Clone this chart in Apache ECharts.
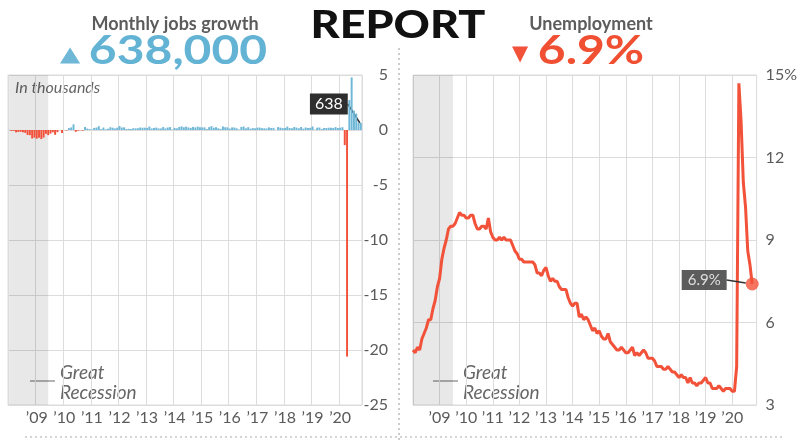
<!DOCTYPE html>
<html>
<head>
<meta charset="utf-8">
<script src="https://cdn.jsdelivr.net/npm/echarts@6/dist/echarts.min.js"></script>
<style>
html,body{margin:0;padding:0;background:#fff;}
#c{width:800px;height:443px;}
</style>
</head>
<body>
<div id="c"></div>
<script>
// ---------- DATA ----------
const years = ['2008','2009','2010','2011','2012','2013','2014','2015','2016','2017','2018','2019','2020'];

// Monthly change in nonfarm payrolls, thousands (Jan 2008 – Oct 2020)
const jobsChange = [
  17,-84,-78,-210,-185,-165,-209,-266,-452,-473,-770,-695,
  -791,-703,-823,-686,-351,-470,-329,-212,-438,-199,-7,-279,
  14,-52,178,237,514,-166,-59,-20,-63,263,131,87,
  43,189,225,346,77,225,69,110,248,209,141,209,
  360,226,243,96,110,88,160,150,161,225,203,214,
  190,311,135,192,218,146,140,268,143,226,264,49,
  190,151,272,329,246,304,231,193,281,226,312,255,
  234,238,86,262,344,206,254,157,100,321,252,239,
  126,237,225,153,38,280,313,152,256,124,172,155,
  216,219,149,155,139,242,179,195,15,262,215,168,
  176,311,179,159,270,215,158,271,123,229,173,202,
  315,30,214,227,85,186,182,207,208,185,261,184,
  214,251,-1373,-20600,2725,4781,1761,1493,672,638
];

// Unemployment rate, % (Jan 2008 – Oct 2020)
const unemployment = [
  5.0,4.9,5.1,5.0,5.4,5.6,5.8,6.1,6.1,6.5,6.8,7.3,
  7.6,8.3,8.7,9.0,9.4,9.5,9.5,9.6,9.8,10.0,9.9,9.9,
  9.8,9.8,9.9,9.9,9.6,9.4,9.4,9.5,9.5,9.4,9.8,9.3,
  9.1,9.0,9.0,9.1,9.0,9.1,9.0,9.0,9.0,8.8,8.6,8.5,
  8.3,8.3,8.2,8.2,8.2,8.2,8.2,8.1,7.8,7.8,7.7,7.9,
  8.0,7.7,7.5,7.6,7.5,7.5,7.3,7.2,7.2,7.2,6.9,6.7,
  6.6,6.7,6.7,6.2,6.3,6.1,6.2,6.1,5.9,5.7,5.8,5.6,
  5.7,5.5,5.4,5.4,5.6,5.3,5.2,5.1,5.0,5.0,5.1,5.0,
  4.9,4.9,5.0,5.1,4.8,4.9,4.8,4.9,5.0,4.9,4.7,4.7,
  4.7,4.6,4.4,4.4,4.4,4.3,4.3,4.4,4.3,4.2,4.2,4.1,
  4.0,4.1,4.0,4.0,3.8,4.0,3.8,3.8,3.7,3.8,3.8,3.9,
  4.0,3.8,3.8,3.6,3.6,3.6,3.7,3.6,3.5,3.6,3.6,3.6,
  3.5,3.5,4.4,14.7,13.3,11.1,10.2,8.6,8.1,7.4
];

const headlineJobs = '638,000';
const headlineRate = '6.9%';
const latestRateLabel = '6.9%';
const recessionStart = '2008-01';
const recessionEndJobs = '2009-06';
const recessionEndRate = '2009-07';
const rateTicks = {15: '15%'};

// ---------- CATEGORIES ----------
const months = [];
years.forEach(y => { for (let m = 1; m <= 12; m++) months.push(y + '-' + (m < 10 ? '0' + m : m)); });
const jobCats = months.slice(0, jobsChange.length);
const rateCats = months.slice(0, jobsChange.length + 2);

const RED = '#f2523a';
const BLUE = '#6fb7d6';
const GRID = '#dcdcdc';
const TXT = '#5a5a5a';

const jobsMillions = jobsChange.map(v => v / 1000);
const lastJ = jobsChange.length - 1;
const barData = jobsMillions.map((v, i) => i === lastJ ? {value: v, label: {show: true}} : v);
const lastR = unemployment.length - 1;

const yearTick = (i) => i % 12 === 0;
const yearLabel = (i) => i % 12 === 0 && i >= 12;
const fmtYear = (v) => '\u2019' + v.slice(2, 4);

const chart = echarts.init(document.getElementById('c'), null, {renderer: 'canvas'});

const titleText = (text, x, y, size, weight, fill, sx, family) => ({
  type: 'text', x: x, y: y, scaleX: sx || 1,
  style: {text: text, fontFamily: family || 'Lato', fontSize: size, fontWeight: weight, fill: fill, align: 'center', verticalAlign: 'middle'}
});

const option = {
  animation: false,
  backgroundColor: '#fff',
  grid: [
    {left: 8, top: 75, width: 354, height: 330, show: true, borderColor: GRID, borderWidth: 1, backgroundColor: 'transparent'},
    {left: 413, top: 75, width: 344, height: 330, show: true, borderColor: GRID, borderWidth: 1, backgroundColor: 'transparent'}
  ],
  xAxis: [
    {
      type: 'category', gridIndex: 0, data: jobCats, boundaryGap: true,
      axisLine: {show: false}, axisTick: {show: false},
      splitLine: {show: true, interval: (i) => yearTick(i), lineStyle: {color: GRID, width: 1}},
      axisLabel: {interval: (i) => yearLabel(i), formatter: fmtYear, color: TXT, fontFamily: 'Lato', fontSize: 16, margin: 5}
    },
    {
      type: 'category', gridIndex: 1, data: rateCats, boundaryGap: false,
      axisLine: {show: false}, axisTick: {show: false},
      splitLine: {show: true, interval: (i) => yearTick(i), lineStyle: {color: GRID, width: 1}},
      axisLabel: {interval: (i) => yearLabel(i), formatter: fmtYear, color: TXT, fontFamily: 'Lato', fontSize: 16, margin: 5}
    }
  ],
  yAxis: [
    {
      type: 'value', gridIndex: 0, position: 'right', min: -25, max: 5, interval: 5,
      axisLine: {show: false}, axisTick: {show: false},
      splitLine: {lineStyle: {color: GRID, width: 1}},
      axisLabel: {align: 'right', margin: 26, color: TXT, fontFamily: 'Lato', fontSize: 16}
    },
    {
      type: 'value', gridIndex: 1, position: 'right', min: 3, max: 15, interval: 3,
      axisLine: {show: false}, axisTick: {show: false},
      splitLine: {lineStyle: {color: GRID, width: 1}},
      axisLabel: {align: 'left', margin: 9, color: TXT, fontFamily: 'Lato', fontSize: 16,
        formatter: (v) => rateTicks[v] || String(v)}
    }
  ],
  series: [
    {
      // invisible helper carrying the recession band on the jobs panel
      type: 'line', xAxisIndex: 0, yAxisIndex: 0, data: jobsMillions,
      symbol: 'none', lineStyle: {width: 0, opacity: 0}, silent: true,
      markArea: {silent: true, itemStyle: {color: 'rgba(0,0,0,0.09)'},
        data: [[{xAxis: recessionStart}, {xAxis: recessionEndJobs}]]},
      z: 1
    },
    {
      type: 'bar', xAxisIndex: 0, yAxisIndex: 0, data: barData,
      barWidth: '85%',
      itemStyle: {color: (p) => p.value < 0 ? RED : BLUE},
      label: {show: false, color: '#fff', backgroundColor: '#2e2e2e', padding: [3, 5, 2, 5],
        fontFamily: 'Lato', fontSize: 16, formatter: (p) => String(Math.round(p.value * 1000))},
      labelLine: {show: true, lineStyle: {color: '#2e2e2e', width: 1.5}},
      labelLayout: (p) => ({x: p.rect.x + p.rect.width / 2 - 32, y: p.rect.y - 19, align: 'center', verticalAlign: 'middle'}),
      z: 3
    },
    {
      type: 'line', xAxisIndex: 1, yAxisIndex: 1, data: unemployment,
      symbol: 'none', lineStyle: {color: RED, width: 3}, itemStyle: {color: RED},
      markArea: {silent: true, itemStyle: {color: 'rgba(0,0,0,0.09)'},
        data: [[{xAxis: recessionStart}, {xAxis: recessionEndRate}]]},
      z: 3
    },
    {
      type: 'scatter', xAxisIndex: 1, yAxisIndex: 1,
      data: [[rateCats[lastR], unemployment[lastR]]],
      symbol: 'circle', symbolSize: 13, itemStyle: {color: RED},
      label: {show: true, color: '#fff', backgroundColor: '#333', padding: [3, 6, 2, 6],
        fontFamily: 'Lato', fontSize: 15, formatter: () => latestRateLabel},
      labelLine: {show: true, lineStyle: {color: '#333', width: 1.5}},
      labelLayout: (p) => ({x: p.rect.x + p.rect.width / 2 - 48, y: p.rect.y + p.rect.height / 2 - 4, align: 'center', verticalAlign: 'middle'}),
      z: 5
    }
  ],
  graphic: [
    // headlines
    titleText('Monthly jobs growth', 175, 24, 18, 'bold', '#5c5c5c', 1.0),
    titleText('\u25B2', 70, 56, 21, 'normal', BLUE, 1.25, 'DejaVu Sans'),
    titleText(headlineJobs, 178, 51, 40, 'bold', '#63b3d5', 1.2),
    titleText('REPORT', 398, 26, 38, 900, '#111', 1.18),
    titleText('Unemployment', 591, 24, 18, 'bold', '#5c5c5c', 1.0),
    titleText('\u25BC', 520, 55, 21, 'normal', RED, 1.0, 'DejaVu Sans'),
    titleText(headlineRate, 591, 51, 40, 'bold', '#f04f32', 1.2),
    // in thousands
    {type: 'text', x: 15, y: 88, style: {text: 'In thousands', fontFamily: 'Lato', fontStyle: 'italic', fontSize: 16, fill: '#666', align: 'left', verticalAlign: 'middle'}},
    // Great Recession notes
    {type: 'line', shape: {x1: 30, y1: 381, x2: 55, y2: 381}, style: {stroke: '#666', lineWidth: 1}},
    {type: 'text', x: 60, y: 373, style: {text: 'Great', fontFamily: 'Lato', fontStyle: 'italic', fontSize: 19, fill: '#666', align: 'left', verticalAlign: 'middle'}},
    {type: 'text', x: 60, y: 393, style: {text: 'Recession', fontFamily: 'Lato', fontStyle: 'italic', fontSize: 19, fill: '#666', align: 'left', verticalAlign: 'middle'}},
    {type: 'line', shape: {x1: 433, y1: 381, x2: 458, y2: 381}, style: {stroke: '#666', lineWidth: 1}},
    {type: 'text', x: 463, y: 373, style: {text: 'Great', fontFamily: 'Lato', fontStyle: 'italic', fontSize: 19, fill: '#666', align: 'left', verticalAlign: 'middle'}},
    {type: 'text', x: 463, y: 393, style: {text: 'Recession', fontFamily: 'Lato', fontStyle: 'italic', fontSize: 19, fill: '#666', align: 'left', verticalAlign: 'middle'}},
    // dotted separators
    {type: 'line', shape: {x1: 399, y1: 48, x2: 399, y2: 443}, style: {stroke: '#aaa', lineWidth: 1.2, lineDash: [2, 3]}},
    {type: 'line', shape: {x1: 25, y1: 437, x2: 785, y2: 437}, style: {stroke: '#aaa', lineWidth: 1.2, lineDash: [2, 3]}}
  ]
};
chart.setOption(option);
</script>
</body>
</html>
